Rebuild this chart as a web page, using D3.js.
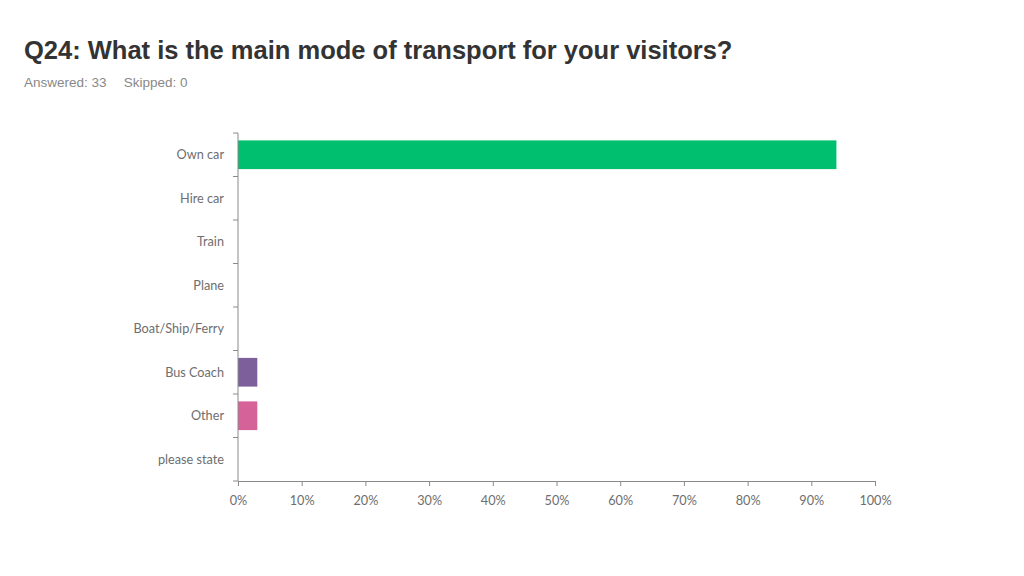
<!DOCTYPE html>
<html>
<head>
<meta charset="utf-8">
<script src="https://cdn.jsdelivr.net/npm/d3@7"></script>
<style>
  body { margin: 0; background: #fff; }
  .title { font-family: "Liberation Sans", Arial, sans-serif; font-weight: bold; font-size: 25.5px; fill: #333; }
  .sub { font-family: "Liberation Sans", Arial, sans-serif; font-size: 13.5px; fill: #888; }
  .axis text { font-family: Lato, "Open Sans", sans-serif; font-size: 12.7px; fill: #6e6e6e; }
  .axis path, .axis line { stroke: #8a8a8a; }
</style>
</head>
<body>
<div id="chart"></div>
<script>
const categories = ['Own car', 'Hire car', 'Train', 'Plane', 'Boat/Ship/Ferry', 'Bus Coach', 'Other', 'please state'];
const values = [93.94, 0, 0, 0, 0, 3.03, 3.03, 0];
const colors = ['#00bf6f', '#00bf6f', '#00bf6f', '#00bf6f', '#00bf6f', '#7d5f9c', '#d6629a', '#d6629a'];
const xTicks = [0, 10, 20, 30, 40, 50, 60, 70, 80, 90, 100];

const width = 1024;
const height = 576;
const margin = { top: 133, right: 149, bottom: 95, left: 238 };

const svg = d3.select('#chart')
  .append('svg')
  .attr('width', width)
  .attr('height', height);

svg.append('text')
  .attr('class', 'title')
  .attr('x', 24)
  .attr('y', 59)
  .text('Q24: What is the main mode of transport for your visitors?');

svg.append('text')
  .attr('class', 'sub')
  .attr('x', 24)
  .attr('y', 87)
  .text('Answered: 33\u2003 Skipped: 0');

const x = d3.scaleLinear()
  .domain([0, 100])
  .range([margin.left, width - margin.right]);

const y = d3.scaleBand()
  .domain(categories)
  .range([margin.top, height - margin.bottom])
  .paddingInner(0.34)
  .paddingOuter(0.17);

// category boundaries for the tick marks
const yEdges = d3.scaleLinear()
  .domain([0, categories.length])
  .range([margin.top, height - margin.bottom]);

const g = svg.append('g');

g.selectAll('.bar')
  .data(categories)
  .enter()
  .append('rect')
  .attr('class', 'bar')
  .attr('x', x(0))
  .attr('y', d => y(d))
  .attr('width', (d, i) => x(values[i]) - x(0))
  .attr('height', y.bandwidth())
  .attr('fill', (d, i) => colors[i]);

// y axis: line, boundary ticks and labels
const yAxis = svg.append('g').attr('class', 'axis');
yAxis.append('path')
  .attr('d', `M${x(0)},${yEdges(0)}V${yEdges(categories.length)}`);
yAxis.selectAll('line')
  .data(d3.range(categories.length + 1))
  .enter()
  .append('line')
  .attr('x1', x(0) - 5)
  .attr('x2', x(0))
  .attr('y1', d => yEdges(d))
  .attr('y2', d => yEdges(d));
yAxis.selectAll('text')
  .data(categories)
  .enter()
  .append('text')
  .attr('x', x(0) - 14)
  .attr('y', d => y(d) + y.bandwidth() / 2)
  .attr('dy', '0.35em')
  .attr('text-anchor', 'end')
  .text(d => d);

svg.append('g')
  .attr('class', 'axis')
  .attr('transform', `translate(0,${height - margin.bottom})`)
  .call(d3.axisBottom(x).tickValues(xTicks).tickFormat(d => d + '%').tickSizeOuter(0).tickSize(5).tickPadding(10));
</script>
</body>
</html>
